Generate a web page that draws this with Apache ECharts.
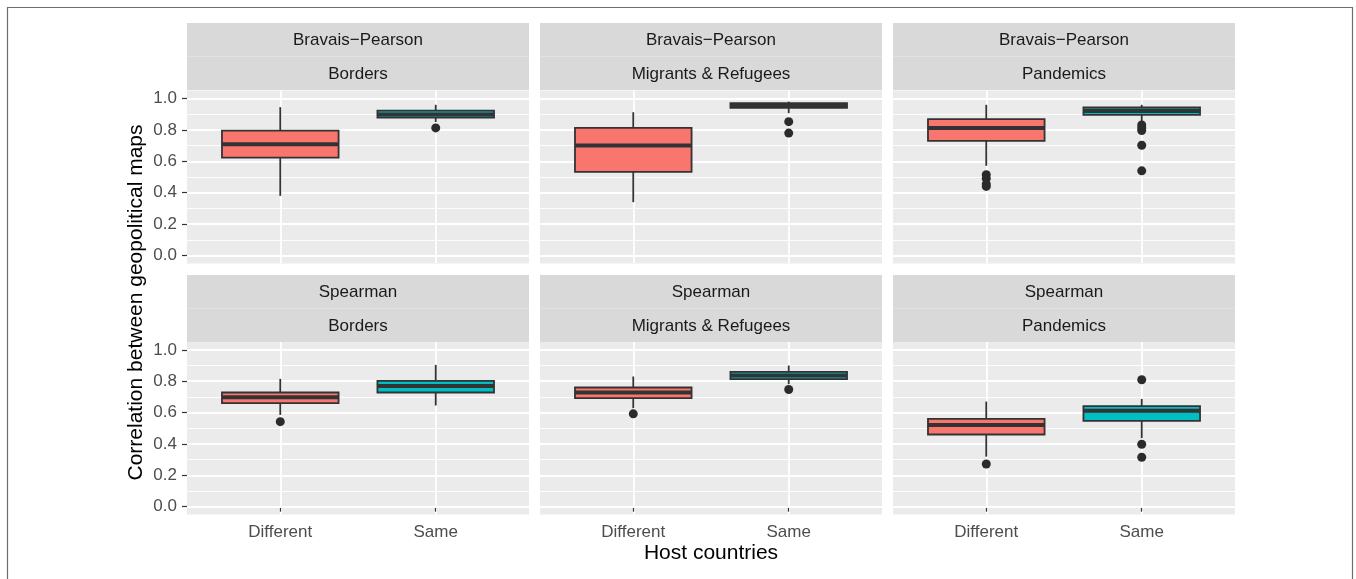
<!DOCTYPE html>
<html>
<head>
<meta charset="utf-8">
<script src="https://cdn.jsdelivr.net/npm/echarts@6/dist/echarts.min.js"></script>
<style>
  html, body { margin: 0; padding: 0; background: #ffffff; }
  #chart { width: 1356px; height: 579px; }
</style>
</head>
<body>
<div id="chart"></div>
<script>
// ---- data -------------------------------------------------------------
const groups = ['Different', 'Same'];
const methods = ['Bravais\u2212Pearson', 'Spearman'];
const topics = ['Borders', 'Migrants & Refugees', 'Pandemics'];
const yTicks = [0, 0.2, 0.4, 0.6, 0.8, 1.0];
const yMinorTicks = [0.1, 0.3, 0.5, 0.7, 0.9];

// box statistics per group: [lower whisker, Q1, median, Q3, upper whisker]
const pearsonBorders   = [[0.380, 0.623, 0.709, 0.795, 0.944], [0.850, 0.878, 0.897, 0.922, 0.959]];
const pearsonMigrants  = [[0.340, 0.532, 0.700, 0.812, 0.912], [0.906, 0.940, 0.957, 0.969, 0.980]];
const pearsonPandemics = [[0.571, 0.730, 0.812, 0.868, 0.959], [0.852, 0.895, 0.920, 0.942, 0.959]];
const spearmanBorders   = [[0.585, 0.660, 0.698, 0.728, 0.815], [0.645, 0.728, 0.770, 0.802, 0.904]];
const spearmanMigrants  = [[0.628, 0.692, 0.728, 0.760, 0.830], [0.781, 0.813, 0.836, 0.860, 0.900]];
const spearmanPandemics = [[0.319, 0.460, 0.521, 0.560, 0.670], [0.437, 0.547, 0.611, 0.641, 0.687]];

// outliers per group: [Different values, Same values]
const pearsonBordersOut   = [[], [0.812]];
const pearsonMigrantsOut  = [[], [0.852, 0.779]];
const pearsonPandemicsOut = [[0.515, 0.490, 0.455, 0.440], [0.831, 0.812, 0.795, 0.702, 0.539]];
const spearmanBordersOut   = [[0.542], []];
const spearmanMigrantsOut  = [[0.592], [0.747]];
const spearmanPandemicsOut = [[0.272], [0.809, 0.398, 0.315]];

const panelStats = [
  [pearsonBorders, pearsonMigrants, pearsonPandemics],
  [spearmanBorders, spearmanMigrants, spearmanPandemics]
];
const panelOutliers = [
  [pearsonBordersOut, pearsonMigrantsOut, pearsonPandemicsOut],
  [spearmanBordersOut, spearmanMigrantsOut, spearmanPandemicsOut]
];

// ---- styling / layout ---------------------------------------------------
const FONT = 'Liberation Sans, Arial, Helvetica, sans-serif';
const FILLS = ['#F8766D', '#00BFC4'];
const INK = '#333333';
const colLeft = [187, 540, 893];
const panelW = 342;
const rowTop = [90.5, 342];
const panelH = [173, 172.5];
const stripTop = [23, 275];
const stripH = 33.5;
const BOX_HALF = 0.375;

function renderBox(params, api) {
  const x = api.value(0);
  const lo = api.coord([x, api.value(1)]);
  const q1 = api.coord([x, api.value(2)]);
  const med = api.coord([x, api.value(3)]);
  const q3 = api.coord([x, api.value(4)]);
  const hi = api.coord([x, api.value(5)]);
  const left = api.coord([x - BOX_HALF, 0])[0];
  const right = api.coord([x + BOX_HALF, 0])[0];
  const fill = FILLS[Math.round(x) - 1];
  const lineStyle = { stroke: INK, lineWidth: 1.8 };
  return {
    type: 'group',
    children: [
      { type: 'line', shape: { x1: lo[0], y1: lo[1], x2: q1[0], y2: q1[1] }, style: lineStyle },
      { type: 'line', shape: { x1: q3[0], y1: q3[1], x2: hi[0], y2: hi[1] }, style: lineStyle },
      { type: 'rect', shape: { x: left, y: q3[1], width: right - left, height: q1[1] - q3[1] },
        style: { fill: fill, stroke: INK, lineWidth: 1.8 } },
      { type: 'line', shape: { x1: left, y1: med[1], x2: right, y2: med[1] },
        style: { stroke: INK, lineWidth: 4 } }
    ]
  };
}

const grids = [], xAxes = [], yAxes = [], series = [], graphics = [];

for (let r = 0; r < 2; r++) {
  for (let c = 0; c < 3; c++) {
    const gi = grids.length;
    grids.push({
      left: colLeft[c], top: rowTop[r], width: panelW, height: panelH[r],
      show: true, backgroundColor: '#EBEBEB', borderWidth: 0, containLabel: false
    });
    const bottomRow = r === 1;
    xAxes.push({
      gridIndex: gi, type: 'value', min: 0.4, max: 2.6,
      axisLine: { show: false },
      axisTick: { show: bottomRow, customValues: [1, 2], length: 5, lineStyle: { color: INK, width: 1.2 } },
      axisLabel: {
        show: bottomRow, customValues: [1, 2], margin: 9,
        formatter: v => groups[Math.round(v) - 1],
        color: '#4D4D4D', fontSize: 17, fontFamily: FONT
      },
      splitLine: { show: true, lineStyle: { color: '#FFFFFF', width: 1.8 } }
    });
    const leftCol = c === 0;
    // major grid lines + tick labels
    yAxes.push({
      gridIndex: gi, type: 'value', min: -0.05, max: 1.05,
      axisLine: { show: false },
      axisTick: { show: leftCol, customValues: yTicks, length: 5, lineStyle: { color: INK, width: 1.2 } },
      axisLabel: {
        show: leftCol, customValues: yTicks, margin: 10,
        formatter: v => v.toFixed(1),
        color: '#4D4D4D', fontSize: 17, fontFamily: FONT
      },
      splitLine: { show: true, lineStyle: { color: '#FFFFFF', width: 1.8 } },
      z: 1
    });
    // minor grid lines
    yAxes.push({
      gridIndex: gi, type: 'value', min: -0.05, max: 1.05,
      axisLine: { show: false },
      axisTick: { show: false, customValues: yMinorTicks },
      axisLabel: { show: false, customValues: yMinorTicks },
      splitLine: { show: true, lineStyle: { color: '#FFFFFF', width: 0.9 } },
      z: 0
    });

    const stats = panelStats[r][c];
    series.push({
      type: 'custom',
      xAxisIndex: gi, yAxisIndex: 2 * gi,
      renderItem: renderBox,
      encode: { x: 0, y: [1, 2, 3, 4, 5] },
      data: stats.map((s, k) => [k + 1].concat(s)),
      z: 3, silent: true
    });
    const outs = panelOutliers[r][c];
    const pts = [];
    outs.forEach((vals, k) => vals.forEach(v => pts.push([k + 1, v])));
    series.push({
      type: 'scatter',
      xAxisIndex: gi, yAxisIndex: 2 * gi,
      data: pts, symbol: 'circle', symbolSize: 9,
      itemStyle: { color: '#2B2B2B', opacity: 1 },
      z: 4, silent: true
    });

    // facet strips: method on top, topic below
    const sx = colLeft[c], sy = stripTop[r];
    graphics.push({
      type: 'rect', shape: { x: sx, y: sy, width: panelW, height: stripH * 2 },
      style: { fill: '#D9D9D9' }, z: 1
    });
    graphics.push({
      type: 'rect', shape: { x: sx, y: sy + stripH - 0.5, width: panelW, height: 1 },
      style: { fill: '#E1E1E1' }, z: 2
    });
    graphics.push({
      type: 'text', x: sx + panelW / 2, y: sy + stripH / 2 + 1, z: 3,
      style: { text: methods[r], fill: '#1A1A1A', font: '17px ' + FONT, align: 'center', verticalAlign: 'middle' }
    });
    graphics.push({
      type: 'text', x: sx + panelW / 2, y: sy + stripH * 1.5 + 1, z: 3,
      style: { text: topics[c], fill: '#1A1A1A', font: '17px ' + FONT, align: 'center', verticalAlign: 'middle' }
    });
  }
}

// axis titles
graphics.push({
  type: 'text', x: (colLeft[0] + colLeft[2] + panelW) / 2, y: 553, z: 3,
  style: { text: 'Host countries', fill: '#000000', font: '21px ' + FONT, align: 'center', verticalAlign: 'middle' }
});
graphics.push({
  type: 'text', x: 136, y: (rowTop[0] + rowTop[1] + panelH[1]) / 2, rotation: Math.PI / 2, z: 3,
  style: { text: 'Correlation between geopolitical maps', fill: '#000000', font: '21px ' + FONT, align: 'center', verticalAlign: 'middle' }
});
// outer frame
graphics.push({
  type: 'rect', shape: { x: 7.5, y: 7.5, width: 1345, height: 620 },
  style: { fill: 'none', stroke: '#6E6E6E', lineWidth: 1.2 }, z: 0
});

const chart = echarts.init(document.getElementById('chart'), null, { renderer: 'canvas' });
chart.setOption({
  animation: false,
  backgroundColor: '#FFFFFF',
  grid: grids,
  xAxis: xAxes,
  yAxis: yAxes,
  series: series,
  graphic: { elements: graphics }
});
</script>
</body>
</html>
